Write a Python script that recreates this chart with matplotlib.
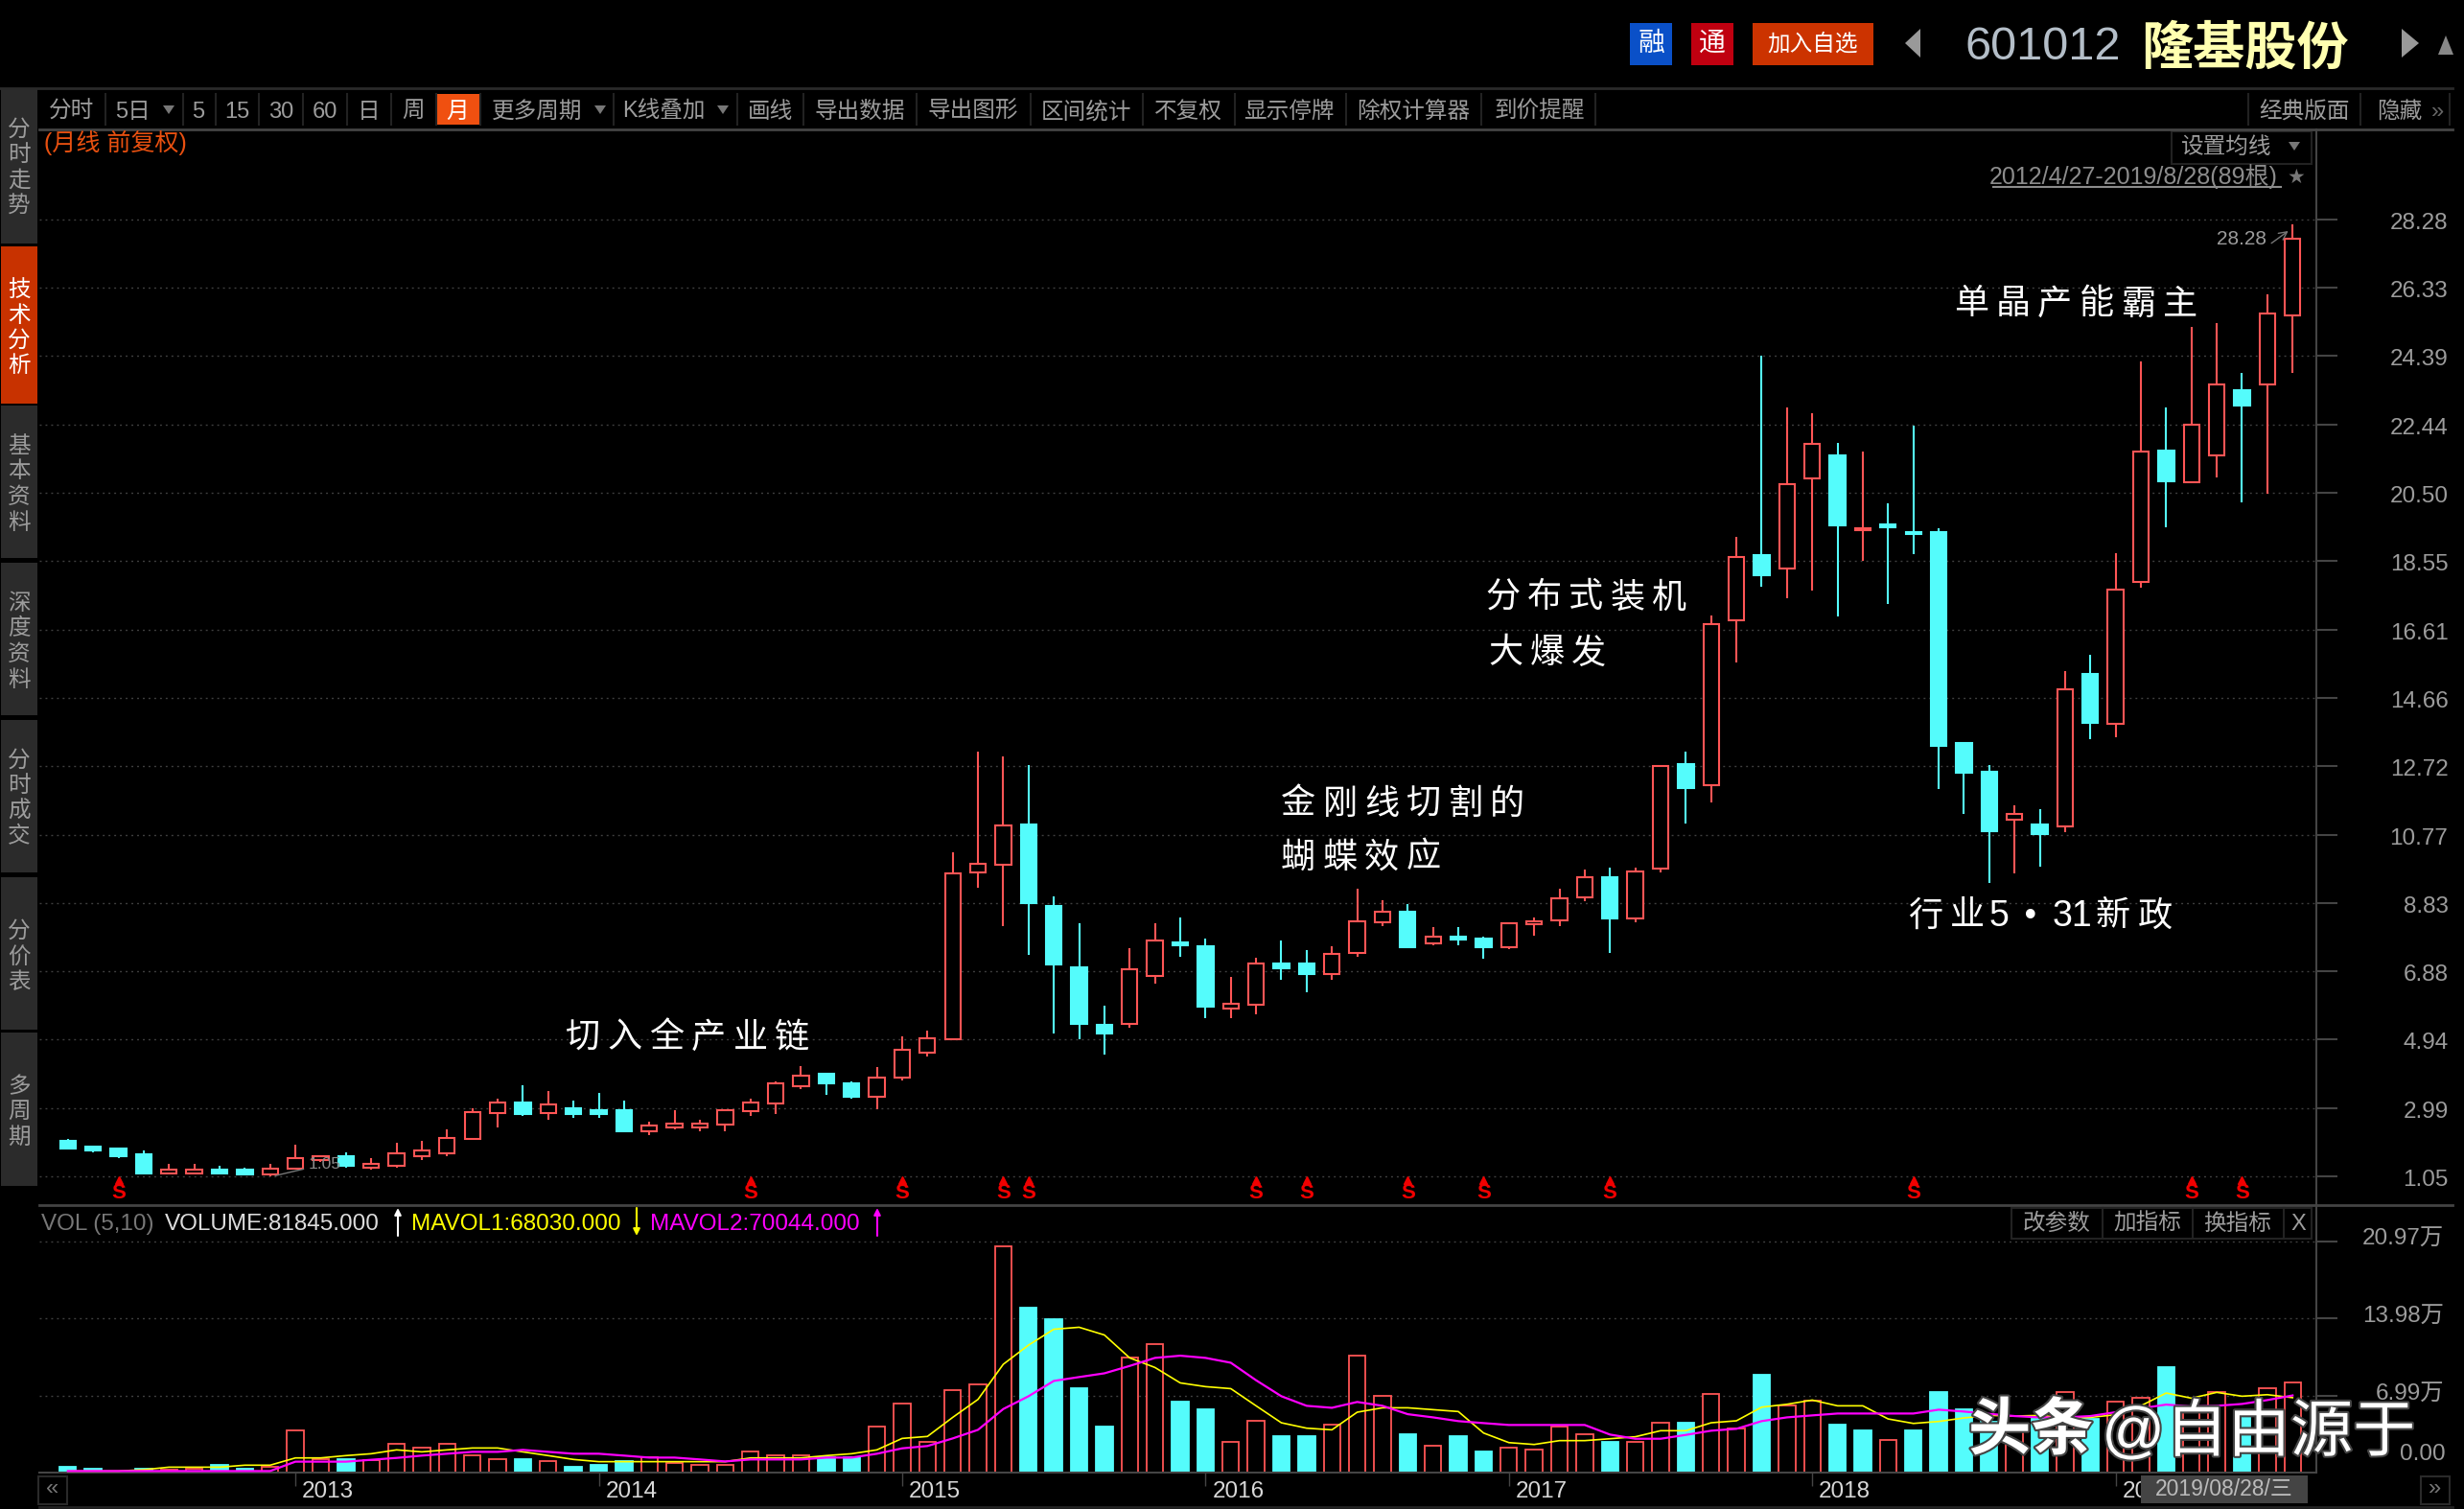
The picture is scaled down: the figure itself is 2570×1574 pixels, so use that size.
import matplotlib
matplotlib.use('Agg')
import matplotlib.pyplot as plt
import matplotlib.patheffects as pe
from matplotlib.patches import Rectangle, Polygon
from matplotlib.transforms import ScaledTranslation

plt.rcParams['font.family'] = ['Liberation Sans', 'Noto Sans CJK SC', 'DejaVu Sans']

# monthly candles, 2012/4 - 2019/8
opens = [2.07, 1.89, 1.83, 1.67, 1.14, 1.14, 1.24, 1.23, 1.09, 1.26, 1.51, 1.61, 1.30, 1.36, 1.63, 1.69, 2.12, 2.85,
         3.14, 2.84, 2.98, 2.92, 2.92, 2.34, 2.43, 2.43, 2.51, 2.90, 3.11, 3.60, 3.96, 3.69, 3.31, 3.86, 4.57, 4.95,
         9.70, 9.92, 11.05, 8.75, 7.00, 5.36, 5.39, 6.75, 7.71, 7.60, 5.82, 5.93, 7.11, 7.11, 6.81, 7.41, 8.28, 8.58,
         7.67, 7.87, 7.82, 7.57, 8.22, 8.34, 9.00, 9.57, 8.39, 9.81, 12.79, 12.18, 16.87, 18.73, 18.35, 20.91, 21.57,
         19.43, 19.61, 19.39, 19.39, 13.39, 12.57, 11.19, 11.05, 11.01, 15.35, 13.92, 17.97, 21.69, 20.79, 21.57,
         23.42, 23.58, 25.54]
closes = [1.83, 1.79, 1.62, 1.14, 1.24, 1.24, 1.14, 1.09, 1.28, 1.56, 1.61, 1.36, 1.40, 1.71, 1.78, 2.15, 2.87, 3.14,
          2.83, 3.09, 2.83, 2.83, 2.34, 2.49, 2.54, 2.54, 2.92, 3.14, 3.69, 3.90, 3.70, 3.32, 3.87, 4.64, 4.97, 9.67,
          9.94, 11.03, 8.82, 7.07, 5.38, 5.10, 6.93, 7.75, 7.62, 5.87, 5.95, 7.10, 6.96, 6.80, 7.37, 8.30, 8.57, 7.56,
          7.86, 7.78, 7.56, 8.24, 8.31, 8.96, 9.56, 8.38, 9.72, 12.73, 12.11, 16.76, 18.67, 18.16, 20.74, 21.89, 19.58,
          19.50, 19.53, 19.32, 13.31, 12.54, 10.86, 11.36, 10.80, 14.91, 13.96, 17.75, 21.67, 20.84, 22.44, 23.58,
          22.97, 25.59, 27.72]
highs = [2.10, 1.89, 1.83, 1.78, 1.40, 1.40, 1.34, 1.29, 1.40, 1.94, 1.63, 1.72, 1.56, 2.00, 2.05, 2.38, 2.98, 3.25,
         3.63, 3.47, 3.20, 3.41, 3.20, 2.60, 2.92, 2.65, 2.92, 3.25, 3.74, 4.18, 3.96, 3.74, 4.16, 5.03, 5.19, 10.28,
         13.13, 13.01, 12.74, 9.02, 8.25, 5.90, 7.54, 8.25, 8.42, 7.82, 6.72, 7.27, 7.76, 7.49, 7.60, 9.24, 8.91, 8.80,
         8.14, 8.14, 7.87, 8.24, 8.42, 9.24, 9.78, 9.84, 9.84, 12.73, 13.14, 17.00, 19.24, 24.41, 22.94, 22.77, 21.91,
         21.68, 20.21, 22.41, 19.50, 13.39, 12.74, 11.60, 11.49, 15.42, 15.90, 18.79, 24.25, 22.94, 25.23, 25.34,
         23.92, 26.15, 28.13]
lows = [1.80, 1.74, 1.58, 1.14, 1.14, 1.14, 1.14, 1.09, 1.05, 1.24, 1.45, 1.30, 1.25, 1.30, 1.52, 1.63, 2.12, 2.45,
        2.78, 2.67, 2.72, 2.72, 2.29, 2.23, 2.38, 2.34, 2.34, 2.78, 2.83, 3.54, 3.38, 3.27, 2.97, 3.79, 4.45, 4.95,
        9.26, 8.16, 7.34, 5.10, 4.94, 4.50, 5.27, 6.52, 7.29, 5.54, 5.54, 5.65, 6.63, 6.30, 6.63, 7.29, 8.16, 7.56,
        7.62, 7.62, 7.23, 7.51, 7.89, 8.16, 8.87, 7.40, 8.27, 9.69, 11.08, 11.68, 15.66, 17.84, 17.51, 17.73, 16.97,
        18.55, 17.34, 18.76, 12.06, 11.35, 9.39, 9.66, 9.87, 10.85, 13.48, 13.53, 17.79, 19.53, 20.79, 20.93, 20.24,
        20.46, 23.90]

# volume in units of 万
volumes = [0.55, 0.35, 0.12, 0.35, 0.26, 0.32, 0.70, 0.35, 0.55, 3.83, 1.20, 1.22, 1.13, 2.58, 2.26, 2.58, 1.57, 1.22,
           1.22, 1.04, 0.55, 0.72, 1.04, 1.39, 0.87, 0.70, 0.70, 1.91, 1.57, 1.57, 1.39, 1.39, 4.17, 6.26, 2.78, 7.48,
           8.00, 20.52, 14.99, 13.94, 7.68, 4.20, 10.43, 11.65, 6.46, 5.77, 2.78, 4.70, 3.33, 3.33, 4.35, 10.61, 6.96,
           3.51, 2.43, 3.33, 1.94, 2.26, 2.09, 4.17, 3.48, 2.81, 2.78, 4.52, 4.55, 7.13, 4.00, 8.90, 6.09, 6.55, 4.38,
           3.86, 2.96, 3.86, 7.33, 5.77, 4.60, 3.90, 4.90, 7.30, 4.90, 6.43, 6.78, 9.59, 5.77, 7.30, 5.07, 7.65, 8.18]
vol_red = [0, 0, 1, 0, 1, 1, 0, 0, 1, 1, 1, 0, 1, 1, 1, 1, 1, 1, 0, 1, 0, 0, 0, 1, 1, 1, 1, 1, 1, 1, 0, 0, 1, 1, 1, 1,
           1, 1, 0, 0, 0, 0, 1, 1, 0, 0, 1, 1, 0, 0, 1, 1, 1, 0, 1, 0, 0, 1, 1, 1, 1, 0, 1, 1, 0, 1, 1, 0, 1, 1, 0,
           0, 1, 0, 0, 0, 0, 1, 0, 1, 0, 1, 1, 0, 1, 1, 0, 1, 1]
mavol1 = [0.14, 0.14, 0.14, 0.26, 0.49, 0.49, 0.49, 0.67, 0.67, 1.33, 1.33, 1.54, 1.71, 2.06, 1.88, 2.06, 2.23, 2.23,
          1.88, 1.54, 1.19, 0.99, 0.99, 0.99, 0.99, 0.99, 0.99, 1.33, 1.33, 1.33, 1.54, 1.71, 2.06, 3.10, 3.28, 5.01,
          6.64, 9.83, 11.57, 13.01, 13.19, 12.49, 10.41, 9.54, 8.14, 7.80, 7.62, 6.06, 4.52, 4.03, 3.88, 5.48, 5.88,
          5.88, 5.71, 5.54, 3.59, 2.72, 2.55, 2.90, 2.90, 3.07, 3.25, 3.80, 3.80, 4.52, 4.70, 5.94, 6.20, 6.58, 6.06,
          6.06, 4.87, 4.46, 4.64, 4.96, 5.19, 5.13, 5.19, 4.96, 5.01, 5.25, 6.06, 7.22, 6.75, 7.28, 6.93, 7.07, 6.80]
mavol2 = [0.14, 0.14, 0.14, 0.14, 0.14, 0.14, 0.14, 0.14, 0.14, 0.99, 0.99, 0.99, 1.16, 1.33, 1.54, 1.71, 1.88, 1.88,
          2.06, 1.88, 1.71, 1.71, 1.54, 1.36, 1.36, 1.19, 1.01, 1.19, 1.19, 1.19, 1.36, 1.36, 1.71, 2.20, 2.41, 3.10,
          3.88, 5.77, 6.93, 8.32, 8.67, 9.01, 9.68, 10.41, 10.61, 10.41, 9.97, 8.38, 6.93, 6.06, 5.88, 6.41, 6.06,
          5.30, 5.01, 4.67, 4.49, 4.32, 4.32, 4.32, 4.32, 3.45, 3.07, 3.07, 3.42, 3.80, 3.97, 4.67, 5.01, 5.19, 5.36,
          5.36, 5.36, 5.36, 5.71, 5.54, 5.33, 5.13, 5.01, 5.01, 5.13, 5.48, 5.83, 6.17, 6.00, 6.06, 6.23, 6.58, 7.00]

price_ticks = [28.28, 26.33, 24.39, 22.44, 20.50, 18.55, 16.61, 14.66, 12.72, 10.77, 8.83, 6.88, 4.94, 2.99, 1.05]
vol_ticks = [20.97, 13.98, 6.99]
year_idx = [9, 21, 33, 45, 57, 69, 81]
year_labels = ['2013', '2014', '2015', '2016', '2017', '2018', '2019']
s_idx = [2, 27, 33, 37, 38, 47, 49, 53, 56, 61, 73, 84, 86]

toolbar = ['分时', '5日', '5', '15', '30', '60', '日', '周', '月', '更多周期', 'K线叠加', '画线', '导出数据', '导出图形',
           '区间统计', '不复权', '显示停牌', '除权计算器', '到价提醒', '经典版面', '隐藏']
toolbar_x = [75, 138, 207, 247, 293, 339, 385, 431, 477, 560, 692, 803, 897, 1015, 1133, 1239, 1344, 1474, 1606, 2403, 2503]
toolbar_sep = [110, 191, 225, 270, 316, 362, 408, 455, 501, 640, 769, 838, 956, 1075, 1192, 1288, 1404, 1545, 1664,
               2345, 2462, 2555]
side_tabs = ['分时走势', '技术分析', '基本资料', '深度资料', '分时成交', '分价表', '多周期']
side_y = [(93, 254), (257, 421), (423, 582), (587, 746), (751, 910), (915, 1074), (1077, 1237)]

RED = '#ff5555'
CYAN = '#54fcfc'
GRAY = '#9c9c9c'
LINE = '#444444'
W, H = 2570, 1574


def box(x0, y0, x1, y1):
    # pixel box to figure fractions
    return [x0 / W, 1 - y1 / H, (x1 - x0) / W, (y1 - y0) / H]


fig = plt.figure(figsize=(25.7, 15.74), dpi=100, facecolor='black')

# price panel
ax = fig.add_axes(box(41, 135, 2416, 1257), facecolor='black')
ax.set_xlim(-1.13, 88.94)
ax.set_ylim(0.23, 30.84)
idx = list(range(len(opens)))
up = [c >= o for o, c in zip(opens, closes)]
colors = [RED if u else CYAN for u in up]
ax.vlines(idx, lows, highs, colors=colors, linewidth=1.5, zorder=2)
bottoms = [min(o, c) for o, c in zip(opens, closes)]
heights = [abs(o - c) for o, c in zip(opens, closes)]
ax.bar(idx, heights, bottom=bottoms, width=0.62, facecolor=['black' if u else CYAN for u in up],
       edgecolor=colors, linewidth=1.5, zorder=3)
ax.set_yticks(price_ticks)
ax.set_yticklabels(['%.2f' % p for p in price_ticks], ha='right')
ax.yaxis.tick_right()
ax.tick_params(axis='y', length=16, width=1.5, color=LINE, labelcolor=GRAY, labelsize=17.5, pad=83)
for lab in ax.get_yticklabels():
    lab.set_transform(lab.get_transform() + ScaledTranslation(0, -1.5 / 100, fig.dpi_scale_trans))
ax.set_xticks([])
ax.grid(axis='y', color='#404040', linewidth=1, linestyle=(0, (1.4, 2.9)), zorder=0)
ax.set_axisbelow(True)
for s in ['top', 'left', 'bottom']:
    ax.spines[s].set_visible(False)
ax.spines['right'].set_color(LINE)
ax.spines['right'].set_linewidth(1.5)

# red S markers under the candles
ax.plot(s_idx, [0.93] * len(s_idx), linestyle='', marker='^', color='#f00000', markersize=5.5, zorder=4)
for i in s_idx:
    ax.text(i, 0.56, 'S', color='#f00000', fontsize=16, fontweight='bold', ha='center', va='center')
ax.annotate('1.05', xy=(8.1, lows[8]), xytext=(9.53, 1.40), color='#8a8a8a', fontsize=12.5, va='center', zorder=6,
            arrowprops=dict(arrowstyle='-', color='#777777', lw=1))
ax.annotate('28.28', xy=(87.83, 27.95), xytext=(85.0, 27.71), color=GRAY, fontsize=15, va='center', zorder=6,
            arrowprops=dict(arrowstyle='->', color='#777777', lw=1, relpos=(1, 0.1), shrinkA=2, shrinkB=0))

# volume panel
vx = fig.add_axes(box(41, 1257, 2416, 1536), facecolor='black')
vx.set_xlim(-1.13, 88.94)
vx.set_ylim(0, 24.28)
vcolors = [RED if r else CYAN for r in vol_red]
vx.bar(idx, volumes, width=0.66, facecolor=['black' if r else CYAN for r in vol_red], edgecolor=vcolors,
       linewidth=1.3, zorder=2)
vx.plot(idx, mavol1, color='#ffff00', linewidth=1.2, zorder=3)
vx.plot(idx, mavol2, color='#ff00ff', linewidth=1.6, zorder=3)
vx.set_yticks(vol_ticks)
vx.set_yticklabels([])
vx.yaxis.tick_right()
vx.tick_params(axis='y', length=16, width=1.5, color=LINE)
vx.grid(axis='y', color='#404040', linewidth=1, linestyle=(0, (1.4, 2.9)), zorder=0)
vx.set_axisbelow(True)
vx.set_xticks(year_idx)
vx.set_xticklabels(year_labels, ha='left')
vx.tick_params(axis='x', length=10, width=1, color=LINE, labelcolor='#d8d8d8', labelsize=17.5, pad=-2)
for lab in vx.get_xticklabels():
    lab.set_transform(lab.get_transform() + ScaledTranslation(7 / 100, 2 / 100, fig.dpi_scale_trans))
for s in ['top', 'left']:
    vx.spines[s].set_visible(False)
for s in ['right', 'bottom']:
    vx.spines[s].set_color(LINE)
    vx.spines[s].set_linewidth(1.5)

# everything else sits on a pixel overlay
top = fig.add_axes([0, 0, 1, 1], zorder=5)
top.set_xlim(0, W)
top.set_ylim(H, 0)
top.axis('off')


def rect(x0, y0, x1, y1, fc='none', ec='none', lw=1):
    top.add_patch(Rectangle((x0, y0), x1 - x0, y1 - y0, facecolor=fc, edgecolor=ec, linewidth=lw))


def label(x, y, s, color=GRAY, size=17, ha='center', **kw):
    # +3: text sits a little lower in the reference than va=center gives
    return top.text(x, y + 3, s, color=color, fontsize=size, ha=ha, va='center', **kw)


def tri(points, color='#777777'):
    top.add_patch(Polygon(points, closed=True, facecolor=color, edgecolor='none'))


def spaced(x, y, s, pitch, size=26):
    # characters set one by one, the captions are loosely spaced
    for n, ch in enumerate(s):
        top.text(x + n * pitch, y + 4, ch, color='white', fontsize=size, ha='left', va='center')


# frame lines
top.plot([0, 2558], [92, 92], color='#2a2a2a', linewidth=2)
top.plot([41, 2558], [135, 135], color=LINE, linewidth=2)
top.plot([41, 2558], [1257, 1257], color=LINE, linewidth=2)
top.plot([41, 2558], [1572, 1572], color='#222222', linewidth=2)

# sidebar
for (y0, y1), name in zip(side_y, side_tabs):
    active = name == '技术分析'
    rect(1, y0, 39, y1, fc='#c83200' if active else '#2b2b2b')
    n = len(name)
    y_first = (y0 + 54 if n == 3 else y0 + 40) if not active else y0 + 43
    for k, ch in enumerate(name):
        label(20, y_first + k * 26.5, ch, color='white' if active else GRAY, size=17)

# toolbar
for x in toolbar_sep:
    top.plot([x, x], [98, 130], color='#222222', linewidth=1.5)
rect(456, 98, 500, 130, fc='#f05010')
for x, name in zip(toolbar_x, toolbar):
    label(x, 114, name, color='white' if name == '月' else GRAY)
for x in [176, 626, 754]:
    tri([(x - 6, 110), (x + 6, 110), (x, 119)])
label(2543, 114, '»', color='#666666', size=17)

# stock header
rect(1700, 24, 1744, 68, fc='#0a50c8')
label(1722, 43, '融', color='white', size=20)
rect(1764, 24, 1808, 68, fc='#c00010')
label(1786, 43, '通', color='white', size=20)
rect(1828, 24, 1954, 68, fc='#cc3300')
label(1891, 43, '加入自选', color='white', size=17)
tri([(2003, 30), (2003, 60), (1987, 45)], color='#999999')
label(2049, 47, '601012', color='#b4bec8', size=35, ha='left')
label(2233, 49, '隆基股份', color='#ffffb0', size=39, ha='left', fontweight='bold')
tri([(2505, 30), (2505, 60), (2523, 45)], color='#999999')
tri([(2551, 37), (2559, 57), (2543, 57)], color='#888888')

label(46, 146, '(月线 前复权)', color='#e85010', size=18, ha='left')

rect(2265, 137, 2411, 171, ec='#222222', lw=1.5)
label(2322, 151, '设置均线')
tri([(2387, 148), (2399, 148), (2393, 157)])
label(2075, 181, '2012/4/27-2019/8/28(89根)', color='#8c8c8c', size=18, ha='left')
top.plot([2079, 2379], [195, 195], color='#8c8c8c', linewidth=1.5)
label(2395, 182, '★', color='#777777', size=15, family='DejaVu Sans')

# captions
spaced(590, 1079, '切入全产业链', 43.6)
spaced(1336, 835, '金刚线切割的', 43.6)
spaced(1336, 891, '蝴蝶效应', 43.6)
spaced(1549, 620, '分布式装机', 43.6)
spaced(1552, 678, '大爆发', 43.6)
spaced(2038, 314, '单晶产能霸主', 43.6)
spaced(1990, 952, '行业', 43.6)
label(2075, 953, '5', color='white', size=27, ha='left')
label(2118, 953, '•', color='white', size=24, family='DejaVu Sans')
label(2141, 953, '31', color='white', size=27, ha='left')
spaced(2186, 952, '新政', 43.6)

# volume header
label(43, 1274, 'VOL (5,10)', color='#777777', size=17.5, ha='left')
label(172, 1274, 'VOLUME:81845.000', color='#dddddd', size=17.5, ha='left')
label(429, 1274, 'MAVOL1:68030.000', color='#ffff00', size=17.5, ha='left')
label(678, 1274, 'MAVOL2:70044.000', color='#ff00ff', size=17.5, ha='left')
for x, color, pointing_up in [(415, 'white', True), (664, '#ffff00', False), (915, '#ff00ff', True)]:
    y0, y1 = (1289, 1260) if pointing_up else (1260, 1289)
    top.annotate('', xy=(x, y1), xytext=(x, y0), arrowprops=dict(arrowstyle='-|>', color=color, lw=1.5, shrinkA=0, shrinkB=0))

rect(2098, 1260, 2411, 1292, ec='#222222', lw=1.5)
for x in [2193, 2287, 2382]:
    top.plot([x, x], [1260, 1292], color='#222222', linewidth=1.5)
label(2145, 1274, '改参数')
label(2240, 1274, '加指标')
label(2334, 1274, '换指标')
label(2397, 1274, 'X')

# volume axis labels
for v, yy in zip(vol_ticks, [1290, 1371, 1452]):
    label(2549, yy, '%.2f万' % v, size=17.5, ha='right')
label(2551, 1514, '0.00', size=17.5, ha='right')

# bottom strip
rect(40, 1540, 70, 1569, ec='#2a2a2a', lw=1.5)
label(55, 1550, '«', color='#777777', size=17)
rect(2525, 1540, 2555, 1569, ec='#2a2a2a', lw=1.5)
label(2540, 1550, '»', color='#777777', size=17)
rect(2233, 1539, 2407, 1568, fc='#444444')
label(2320, 1550, '2019/08/28/三', color='#bbbbbb', size=16.5)

# watermark
halo = [pe.withStroke(linewidth=3, foreground='#444444')]
label(2053, 1491, '头条', color='white', size=47, ha='left', fontweight='bold', path_effects=halo)
label(2192, 1491, '@自由源于', color='white', size=47, ha='left', path_effects=halo)

fig.savefig('out.png', dpi=100, facecolor='black')
